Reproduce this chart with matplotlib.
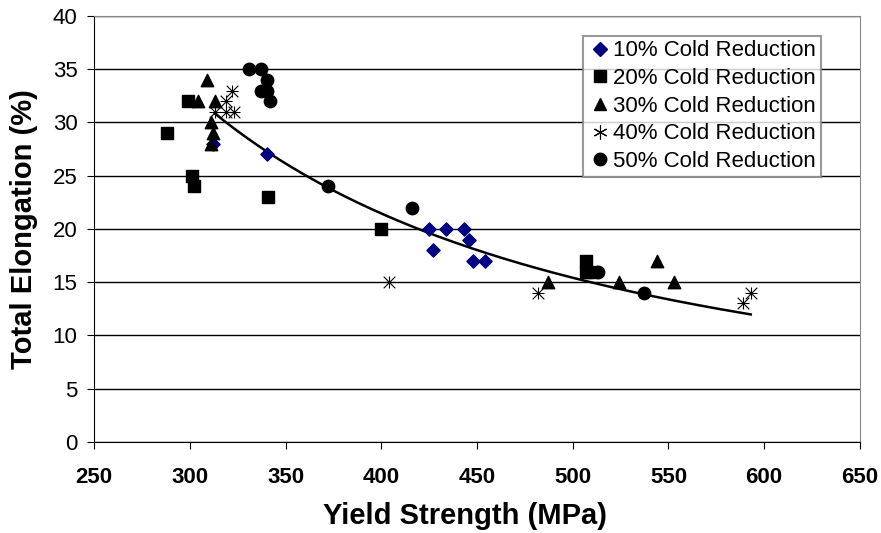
import numpy as np
import matplotlib
matplotlib.use("Agg")
import matplotlib.pyplot as plt
from matplotlib.lines import Line2D

plt.rcParams['font.family'] = ['Liberation Sans', 'DejaVu Sans']

# data (yield strength MPa, total elongation %)
ys_10 = [312, 340, 425, 434, 443, 446, 427, 448, 454]
el_10 = [28, 27, 20, 20, 20, 19, 18, 17, 17]

ys_20 = [299, 288, 301, 302, 341, 400, 507, 507, 510]
el_20 = [32, 29, 25, 24, 23, 20, 17, 16, 16]

ys_30 = [309, 304, 313, 311, 312, 311, 487, 524, 544, 553]
el_30 = [34, 32, 32, 30, 29, 28, 15, 15, 17, 15]

ys_40 = [322, 319, 313, 319, 323, 404, 482, 589, 593]
el_40 = [33, 32, 31, 31, 31, 15, 14, 13, 14]

ys_50 = [331, 337, 340, 337, 340, 342, 372, 416, 513, 537]
el_50 = [35, 35, 34, 33, 33, 32, 24, 22, 16, 14]

labels = ['10% Cold Reduction', '20% Cold Reduction', '30% Cold Reduction',
          '40% Cold Reduction', '50% Cold Reduction']

fig = plt.figure(figsize=(8.81, 5.33), dpi=100)
ax = fig.add_axes([0.107, 0.171, 0.869, 0.799])

ax.scatter(ys_10, el_10, marker='D', s=45, color='#000080', label=labels[0], zorder=3)
ax.scatter(ys_20, el_20, marker='s', s=75, color='black', label=labels[1], zorder=3)
ax.scatter(ys_30, el_30, marker='^', s=80, color='black', label=labels[2], zorder=3)
ax.scatter(ys_40, el_40, marker='x', s=70, color='black', linewidths=0.8, label=labels[3], zorder=3)
ax.scatter(ys_40, el_40, marker='+', s=70, color='black', linewidths=0.8, zorder=3)
ax.scatter(ys_50, el_50, marker='o', s=80, color='black', label=labels[4], zorder=3)

# power trendline on the 40% series (Excel style)
b, ln_a = np.polyfit(np.log(ys_40), np.log(el_40), 1)
xx = np.linspace(min(ys_40), max(ys_40), 200)
ax.plot(xx, np.exp(ln_a) * xx ** b, color='black', lw=1.8, zorder=2)

ax.set_xlim(250, 650)
ax.set_ylim(0, 40)
ax.set_xticks(np.arange(250, 651, 50))
ax.set_yticks(np.arange(0, 41, 5))
ax.yaxis.grid(True, color='black', lw=1)
ax.set_axisbelow(True)
ax.spines['top'].set_color('#888888')
ax.spines['right'].set_color('#888888')
ax.tick_params(axis='x', labelsize=16, direction='out', length=5, pad=13)
ax.tick_params(axis='y', labelsize=16, direction='out', length=5, pad=7)
for t in ax.get_xticklabels():
    t.set_fontweight('bold')

ax.set_xlabel('Yield Strength (MPa)', fontsize=21, fontweight='bold')
ax.set_ylabel('Total Elongation (%)', fontsize=21, fontweight='bold')
ax.xaxis.set_label_coords(0.484, -0.142)
ax.yaxis.set_label_coords(-0.074, 0.5)

handles = [
    Line2D([], [], ls='', marker='D', ms=7, color='#000080'),
    Line2D([], [], ls='', marker='s', ms=9, color='black'),
    Line2D([], [], ls='', marker='^', ms=9, color='black'),
    Line2D([], [], ls='', marker=(6, 2, 0), ms=10, color='black', mew=0.8),
    Line2D([], [], ls='', marker='o', ms=9, color='black'),
]
leg = ax.legend(handles, labels, loc='upper right', bbox_to_anchor=(0.949, 0.953),
                fontsize=16, frameon=True, fancybox=False, handletextpad=0.05,
                handlelength=1.1, borderpad=0.2, labelspacing=0.3, borderaxespad=0)
leg.get_frame().set_edgecolor('#808080')
leg.get_frame().set_linewidth(1.5)

fig.savefig('out.png', dpi=100)
